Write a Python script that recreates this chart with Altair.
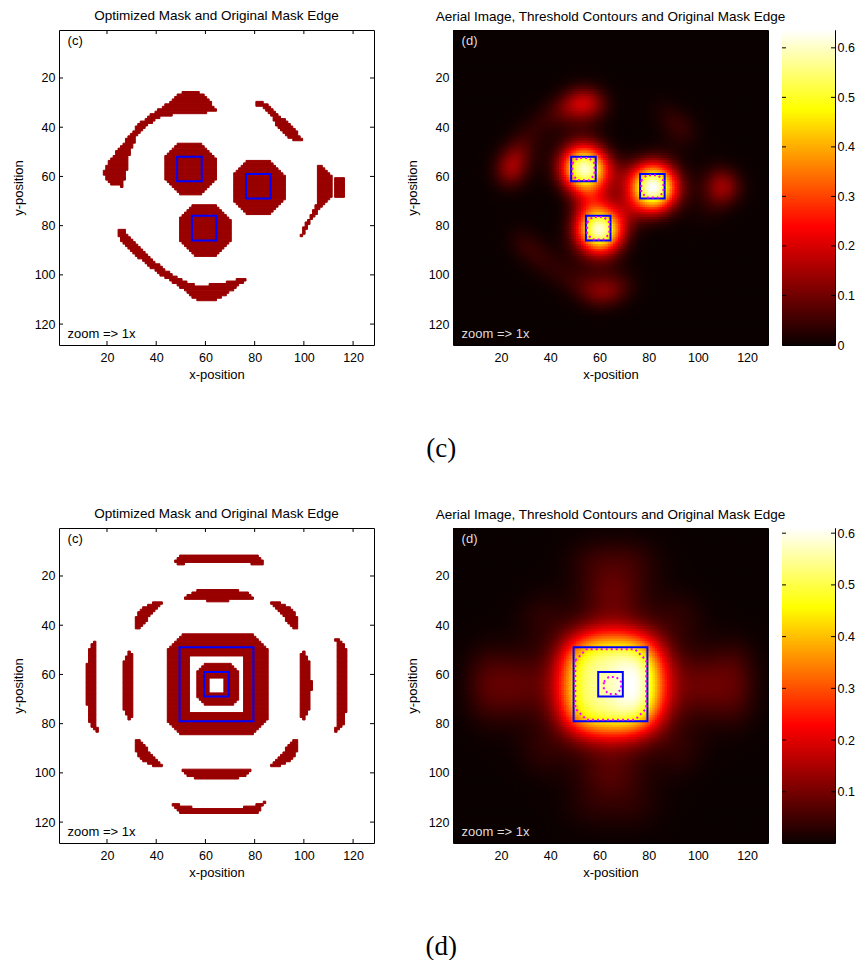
import numpy as np
import pandas as pd
import altair as alt

# ------------------------------------------------------------------ constants
GRID = 128
AXIS_TICKS = [20, 40, 60, 80, 100, 120]
MASK_COLOR = "#990000"
TARGET_COLOR = "#0000ff"
CONTOUR_COLOR = "#ff00ff"
HOT_STOPS = [0.0, 0.375, 0.75, 1.0]
HOT_COLORS = ["#0b0000", "#ff0000", "#ffff00", "#ffffff"]
TITLE_MASK = "Optimized Mask and Original Mask Edge"
TITLE_AERIAL = "Aerial Image, Threshold Contours and Original Mask Edge"
ZOOM_TEXT = "zoom => 1x"

# ---------------------------------------------------------- figure (c) data
C_OCTAGONS = [  # cx, cy, half size, corner cut
    (53.8, 56.8, 10.8, 6.0),
    (81.8, 64.5, 11.0, 6.0),
    (59.8, 81.8, 10.8, 6.0),
]
C_OCTAGON_HOLES = [None, None, None]
C_RECTS = [(113.0, 116.0, 60.5, 68.0)]
C_POLYGONS = [
    [(18.9, 58.1), (21.4, 53.2), (24.6, 49.1), (28.5, 44.3), (32.7, 39.0), (36.8, 35.8),
     (40.9, 32.9), (44.9, 30.1), (48.6, 26.8), (51.0, 26.0), (54.7, 25.6), (58.0, 26.0),
     (61.2, 28.9), (63.2, 31.3), (64.4, 33.3), (60.0, 34.1), (49.8, 34.1), (44.9, 35.4),
     (40.9, 36.2), (35.6, 39.8), (32.3, 43.1), (30.3, 47.9), (28.7, 52.0), (28.3, 56.4),
     (27.0, 61.3), (26.2, 64.1), (22.2, 63.3), (19.7, 61.3), (18.9, 59.7)],
    [(80.3, 29.6), (85.1, 30.2), (88.4, 33.6), (91.2, 36.3), (95.2, 39.7), (97.9, 43.1),
     (99.7, 46.0), (96.6, 46.0), (92.5, 43.1), (89.1, 39.7), (87.1, 35.6), (83.7, 32.2),
     (80.3, 31.2)],
    [(105.9, 55.2), (108.7, 57.2), (112.0, 60.5), (112.0, 67.4), (109.2, 70.6), (106.7, 72.7),
     (104.7, 75.5), (101.8, 79.5), (99.8, 84.4), (99.0, 84.0), (99.8, 80.8), (102.7, 75.9),
     (105.1, 71.4), (105.9, 67.4)],
    [(24.7, 81.3), (24.8, 84.5), (27.0, 87.5), (31.0, 91.5), (36.0, 95.5), (42.0, 100.0),
     (47.5, 103.5), (52.5, 106.5), (55.9, 109.9), (59.3, 111.0), (63.3, 110.6), (66.1, 109.3),
     (71.5, 105.9), (74.9, 103.2), (76.6, 101.6), (71.5, 102.1), (66.1, 103.5), (59.3, 104.3),
     (53.9, 103.9), (48.5, 101.2), (43.0, 97.5), (37.5, 93.0), (32.5, 88.5), (28.8, 84.5),
     (26.5, 81.3)],
]
C_TARGETS = [(48.5, 58.5, 52.0, 62.0), (76.5, 86.5, 59.0, 69.0), (54.5, 64.5, 76.0, 86.0)]
C_CONTOURS = [  # x0, x1, y0, y1, corner cut
    (49.0, 58.0, 52.5, 61.6, 2.2),
    (77.0, 86.0, 59.5, 68.6, 2.2),
    (55.0, 64.0, 76.5, 85.6, 2.2),
]
C_BLUR_SIGMA = 5.8   # image blur read from the halo widths
C_GAMMA = 2.0
C_PEAK = 0.636
C_CBAR_RANGE = [0.0, 0.636]
C_CBAR_TICKS = [0.0, 0.1, 0.2, 0.3, 0.4, 0.5, 0.6]

# ---------------------------------------------------------- figure (d) data
D_OCTAGONS = [(64.75, 64.25, 20.75, 6.0), (65.25, 64.25, 8.9, 3.5)]
D_OCTAGON_HOLES = [(53.5, 75.5, 53.0, 75.0), (61.5, 67.5, 61.5, 67.5)]
D_RECTS = []
D_POLYGONS = [
    # outer ring pieces
    [(15.0, 46.6), (12.3, 50.0), (12.0, 56.0), (12.0, 72.0), (12.5, 78.3), (14.0, 81.5),
     (16.4, 83.4), (15.4, 78.0), (15.3, 64.0), (15.4, 50.0), (16.0, 47.0)],
    [(114.0, 45.2), (117.0, 49.0), (117.3, 56.0), (117.3, 72.0), (116.8, 78.5), (115.0, 82.0),
     (112.0, 84.4), (113.9, 78.0), (114.0, 64.0), (113.9, 50.0), (113.0, 46.0)],
    [(46.8, 14.8), (49.0, 12.5), (51.0, 11.5), (80.5, 11.5), (82.5, 13.0), (84.1, 15.9),
     (80.0, 15.2), (74.0, 14.2), (57.0, 14.2), (50.0, 15.2)],
    [(45.9, 112.1), (50.0, 113.2), (56.0, 114.2), (74.0, 114.2), (80.0, 113.2), (84.8, 111.5),
     (82.5, 114.5), (80.5, 116.8), (51.0, 116.8), (49.0, 115.5)],
    # middle ring pieces
    [(50.9, 29.2), (55.0, 26.3), (58.5, 25.5), (71.5, 25.5), (77.3, 27.0), (79.4, 29.4),
     (74.6, 29.8), (65.0, 30.2), (55.6, 29.8)],
    [(49.9, 98.6), (55.0, 98.3), (65.0, 98.1), (74.5, 98.3), (79.1, 98.6), (77.0, 100.8),
     (72.0, 102.5), (58.0, 102.5), (53.0, 101.3)],
    [(29.2, 50.4), (27.3, 53.5), (26.3, 58.0), (26.1, 64.5), (26.3, 71.0), (27.3, 75.5),
     (29.2, 79.0), (30.8, 76.5), (30.8, 53.0)],
    [(99.5, 50.0), (101.8, 53.5), (102.8, 58.0), (103.1, 64.5), (102.8, 71.0), (101.8, 75.5),
     (99.5, 78.8), (98.7, 76.5), (98.7, 53.0)],
    # diagonal pieces
    [(31.2, 41.8), (31.2, 37.8), (34.0, 33.1), (38.0, 31.1), (42.8, 30.4), (40.0, 33.7),
     (36.7, 37.1), (33.3, 41.8)],
    [(97.8, 41.8), (97.8, 37.8), (95.0, 33.1), (91.0, 31.1), (86.2, 30.4), (89.0, 33.7),
     (92.3, 37.1), (95.7, 41.8)],
    [(31.2, 86.2), (31.2, 90.2), (34.0, 94.9), (38.0, 96.9), (42.8, 97.6), (40.0, 94.3),
     (36.7, 90.9), (33.3, 86.2)],
    [(97.8, 86.2), (97.8, 90.2), (95.0, 94.9), (91.0, 96.9), (86.2, 97.6), (89.0, 94.3),
     (92.3, 90.9), (95.7, 86.2)],
]
D_TARGETS = [(49.5, 79.5, 49.0, 79.0), (59.5, 69.5, 59.0, 69.0)]
D_CONTOURS = [(50.2, 79.0, 49.8, 78.4, 4.5), (61.8, 68.8, 61.0, 68.0, 2.0)]
D_BLUR_SIGMA = 8.0
D_GAMMA = 1.8
D_PEAK = 0.61
D_CBAR_RANGE = [0.001, 0.61]
D_CBAR_TICKS = [0.1, 0.2, 0.3, 0.4, 0.5, 0.6]

# ------------------------------------------------------------ rasterising
_cols, _rows = np.meshgrid(np.arange(1, GRID + 1, dtype=float), np.arange(1, GRID + 1, dtype=float))


def octagon(cx, cy, h, cut):
    dx = np.abs(_cols - cx)
    dy = np.abs(_rows - cy)
    return (dx <= h - 0.5) & (dy <= h - 0.5) & (dx + dy <= 2 * h - cut - 0.7)


def rect(x0, x1, y0, y1):
    return (_cols >= x0) & (_cols <= x1) & (_rows >= y0) & (_rows <= y1)


def polygon(pts):
    inside = np.zeros(_cols.shape, dtype=bool)
    n = len(pts)
    for i in range(n):
        x1, y1 = pts[i]
        x2, y2 = pts[(i + 1) % n]
        if y1 == y2:
            continue
        cond = (y1 > _rows) != (y2 > _rows)
        xint = (x2 - x1) * (_rows - y1) / (y2 - y1) + x1
        inside ^= cond & (_cols < xint)
    return inside


def build_mask(octs, holes, rects, polys):
    m = np.zeros(_cols.shape, dtype=bool)
    for o, h in zip(octs, holes):
        piece = octagon(*o)
        if h is not None:
            piece &= ~rect(*h)
        m |= piece
    for r in rects:
        m |= rect(*r)
    for p in polys:
        m |= polygon(p)
    return m


def mask_runs(m):
    out = []
    for r in range(GRID):
        line = m[r]
        c = 0
        while c < GRID:
            if line[c]:
                s = c
                while c < GRID and line[c]:
                    c += 1
                out.append((s + 0.5, c + 0.5, r + 0.5, r + 1.5))
            else:
                c += 1
    return pd.DataFrame(out, columns=["x0", "x1", "y0", "y1"])


def aerial(m, sigma, gamma):
    u = m.astype(float)
    r = int(3 * sigma) + 1
    k = np.exp(-0.5 * (np.arange(-r, r + 1) / sigma) ** 2)
    k /= k.sum()
    u = np.apply_along_axis(lambda v: np.convolve(v, k, mode="same"), 0, u)
    u = np.apply_along_axis(lambda v: np.convolve(v, k, mode="same"), 1, u)
    return (u / u.max()) ** gamma


def image_df(norm):
    return pd.DataFrame({
        "x": _cols.ravel().astype(int),
        "y": _rows.ravel().astype(int),
        "vn": np.round(norm.ravel(), 3),
    })


def contour_df(contours):
    recs = []
    for cid, (x0, x1, y0, y1, c) in enumerate(contours):
        pts = [(x0, y0 + c), (x0 + c, y0), (x1 - c, y0), (x1, y0 + c),
               (x1, y1 - c), (x1 - c, y1), (x0 + c, y1), (x0, y1 - c), (x0, y0 + c)]
        for k, (x, y) in enumerate(pts):
            recs.append({"cid": cid, "k": k, "x": x, "y": y})
    return pd.DataFrame(recs)


# ---------------------------------------------------------------- charts
SIZE = 315
CB_W = 53
TEXT_SIZE = 13
XS = alt.Scale(domain=[0.5, 128.5], nice=False, zero=False)
YS = alt.Scale(domain=[0.5, 128.5], nice=False, zero=False, reverse=True)
HOT = alt.Scale(domain=HOT_STOPS, range=HOT_COLORS, interpolate="rgb", clamp=True)

X_AXIS = alt.Axis(values=AXIS_TICKS, title="x-position", ticks=False, domain=False, grid=False,
                  labelPadding=6, titlePadding=5)
Y_AXIS = alt.Axis(values=AXIS_TICKS, title="y-position", ticks=False, domain=False, grid=False,
                  labelPadding=4, titlePadding=9)


def X(field):
    return alt.X(field, scale=XS, axis=X_AXIS)


def Y(field):
    return alt.Y(field, scale=YS, axis=Y_AXIS)


TICK_DF = pd.DataFrame({"t": AXIS_TICKS})


def inner_ticks():
    b = alt.Chart(TICK_DF).mark_rule(color="black").encode(
        x=X("t:Q"), y=alt.value(SIZE), y2=alt.value(SIZE - 4))
    t = alt.Chart(TICK_DF).mark_rule(color="black").encode(
        x=X("t:Q"), y=alt.value(0), y2=alt.value(4))
    l = alt.Chart(TICK_DF).mark_rule(color="black").encode(
        y=Y("t:Q"), x=alt.value(0), x2=alt.value(4))
    r = alt.Chart(TICK_DF).mark_rule(color="black").encode(
        y=Y("t:Q"), x=alt.value(SIZE), x2=alt.value(SIZE - 4))
    return [b, t, l, r]


def labels(tag, color):
    df = pd.DataFrame({"x": [4.0, 4.0], "y": [5.0, 124.0], "t": [tag, ZOOM_TEXT]})
    return alt.Chart(df).mark_text(align="left", baseline="middle", fontSize=TEXT_SIZE, color=color).encode(
        x=X("x:Q"), y=Y("y:Q"), text="t:N")


def targets(tlist):
    df = pd.DataFrame(tlist, columns=["x0", "x1", "y0", "y1"])
    return alt.Chart(df).mark_rect(filled=False, color=TARGET_COLOR, strokeWidth=2).encode(
        x=X("x0:Q"), x2="x1:Q", y=Y("y0:Q"), y2="y1:Q")


def panel_title(text):
    return alt.TitleParams(text, fontSize=13.5, fontWeight="normal", offset=7, anchor="middle")


def mask_panel(m, tlist):
    base = alt.Chart(mask_runs(m)).mark_rect(
        color=MASK_COLOR, stroke=MASK_COLOR, strokeWidth=1).encode(
        x=X("x0:Q"), x2="x1:Q", y=Y("y0:Q"), y2="y1:Q")
    return alt.layer(base, targets(tlist), *inner_ticks(), labels("(c)", "black")).properties(
        width=SIZE, height=SIZE, title=panel_title(TITLE_MASK))


def aerial_panel(norm, tlist, contours):
    img = alt.Chart(image_df(norm)).transform_calculate(
        x0="datum.x - 0.5", x1="datum.x + 1.5", y0="datum.y - 0.5", y1="datum.y + 1.5"
    ).mark_rect(clip=True).encode(
        x=X("x0:Q"), x2="x1:Q", y=Y("y0:Q"), y2="y1:Q",
        color=alt.Color("vn:Q", scale=HOT, legend=None))
    cont = alt.Chart(contour_df(contours)).mark_line(
        color=CONTOUR_COLOR, strokeWidth=2, strokeDash=[2, 3]).encode(
        x=X("x:Q"), y=Y("y:Q"), detail="cid:N", order="k:Q")
    return alt.layer(img, targets(tlist), cont, labels("(d)", "#dddddd")).properties(
        width=SIZE, height=SIZE, title=panel_title(TITLE_AERIAL))


def colorbar(peak, vrange, ticks):
    lo, hi = vrange
    n = 240
    step = (hi - lo) / n
    edges = np.linspace(lo, hi, n + 1)
    df = pd.DataFrame({"v0": edges[:-1], "v1": edges[1:] + 2 * step,
                       "vn": (edges[:-1] + edges[1:]) / 2 / peak})
    ys = alt.Scale(domain=[lo, hi], nice=False, zero=False)
    cax = alt.Axis(orient="right", values=ticks, title=None, ticks=False, domain=False, grid=False,
                   labelPadding=2, labelExpr="datum.value == 0 ? '0' : format(datum.value, '.1f')")
    bar = alt.Chart(df).mark_rect(clip=True).encode(
        y=alt.Y("v0:Q", scale=ys, axis=cax),
        y2="v1:Q", x=alt.value(0), x2=alt.value(CB_W),
        color=alt.Color("vn:Q", scale=HOT, legend=None))
    tdf = pd.DataFrame({"t": ticks})
    tr = alt.Chart(tdf).mark_rule(color="black").encode(
        y=alt.Y("t:Q", scale=ys, axis=cax), x=alt.value(CB_W), x2=alt.value(CB_W - 4))
    tl = alt.Chart(tdf).mark_rule(color="black").encode(
        y=alt.Y("t:Q", scale=ys, axis=cax), x=alt.value(0), x2=alt.value(4))
    return alt.layer(bar, tr, tl).properties(width=CB_W, height=SIZE)


def row(octs, holes, rects, polys, tlist, contours, sigma, gamma, peak, vrange, ticks, caption):
    m = build_mask(octs, holes, rects, polys)
    norm = aerial(m, sigma, gamma)
    right = alt.hconcat(aerial_panel(norm, tlist, contours), colorbar(peak, vrange, ticks),
                        spacing=14, bounds="flush")
    return alt.hconcat(mask_panel(m, tlist), right, spacing=79, bounds="flush").properties(
        title=alt.TitleParams(caption, orient="bottom", anchor="middle", font="Liberation Serif",
                              fontSize=27, fontWeight="normal", offset=54, dx=8))


row_c = row(C_OCTAGONS, C_OCTAGON_HOLES, C_RECTS, C_POLYGONS, C_TARGETS, C_CONTOURS,
            C_BLUR_SIGMA, C_GAMMA, C_PEAK, C_CBAR_RANGE, C_CBAR_TICKS, "(c)")
row_d = row(D_OCTAGONS, D_OCTAGON_HOLES, D_RECTS, D_POLYGONS, D_TARGETS, D_CONTOURS,
            D_BLUR_SIGMA, D_GAMMA, D_PEAK, D_CBAR_RANGE, D_CBAR_TICKS, "(d)")

chart = alt.vconcat(row_c, row_d, spacing=44).configure(
    padding={"left": 11, "top": 8, "right": 0, "bottom": 0},
    font="Liberation Sans",
).configure_view(stroke="black", strokeWidth=1).configure_axis(
    labelFontSize=12.5, titleFontSize=13, titleFontWeight="normal",
    labelColor="black", titleColor="black",
).configure_title(color="black")

chart.save("out.html", embed_options={"renderer": "svg", "actions": False})
